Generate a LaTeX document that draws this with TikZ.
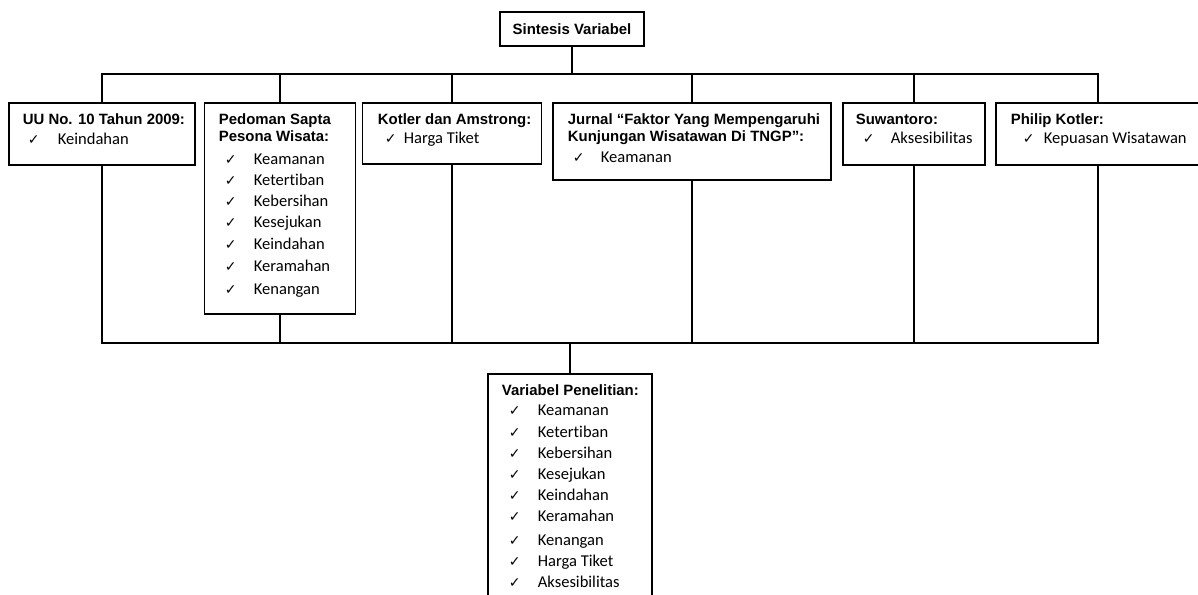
\documentclass[tikz,border=0pt]{standalone}
\usepackage{fontspec}
\setmainfont{Liberation Sans}
\newfontfamily\calfont[Ligatures={NoCommon}]{Carlito}
\newfontfamily\ckfont{DejaVu Sans}
\newcommand{\cek}[2]{\makebox[#1][l]{\ckfont\fontsize{10.5}{12}\selectfont ✓}#2}

\begin{document}
\begin{tikzpicture}[x=0.75pt,y=-0.75pt,line width=1.3pt]
	\tikzstyle{box}=[draw=black,rectangle,inner sep=0pt]
	\tikzstyle{judul}=[anchor=base west,inner sep=0pt,font=\fontsize{11.2}{13}\selectfont\bfseries]
	\tikzstyle{isi}=[anchor=base west,inner sep=0pt,font=\calfont\fontsize{12.4}{14}\selectfont]
	\useasboundingbox (0,0) rectangle (1198,595);

	% Draw the boxes
	\node[box,minimum width=108pt,minimum height=25.5pt,font=\fontsize{11.2}{13}\selectfont\bfseries] (top) at (572,29) {Sintesis Variabel};
	\node[box,minimum width=139.5pt,minimum height=46.5pt] (uu) at (102,134) {};
	\node[box,minimum width=113.25pt,minimum height=158.25pt] (pd) at (280,208.5) {};
	\node[box,minimum width=134.25pt,minimum height=45.75pt] (kt) at (452,133.5) {};
	\node[box,minimum width=208.5pt,minimum height=57.75pt] (jr) at (692,141.5) {};
	\node[box,minimum width=106.5pt,minimum height=46.5pt] (sw) at (914,134) {};
	\node[box,minimum width=153pt,minimum height=46.5pt] (pk) at (1098,134) {};
	\node[box,minimum width=123pt,minimum height=180pt] (hs) at (570,494) {};

	% Headings of the boxes
	\node[judul] (uu-h) at (22,125) {UU No. 10 Tahun 2009:};
	\node[judul] (pd-h1) at (218,125) {Pedoman Sapta};
	\node[judul] (pd-h2) at (218,142) {Pesona Wisata:};
	\node[judul] (kt-h) at (377,125) {Kotler dan Amstrong:};
	\node[judul] (jr-h1) at (567,125) {Jurnal “Faktor Yang Mempengaruhi};
	\node[judul] (jr-h2) at (567,142) {Kunjungan Wisatawan Di TNGP”:};
	\node[judul] (sw-h) at (855,125) {Suwantoro:};
	\node[judul] (pk-h) at (1010,125) {Philip Kotler:};
	\node[judul] (hs-h) at (501,395) {Variabel Penelitian:};

	% Items of the boxes
	\node[isi] (uu-1) at (27,145) {\cek{22.5pt}{Keindahan}};
	\foreach \t/\y [count=\i] in {Keamanan/165,Ketertiban/186,Kebersihan/207,Kesejukan/228,Keindahan/249,Keramahan/271,Kenangan/294}
	\node[isi] (pd-\i) at (224,\y) {\cek{21.75pt}{\t}};
	\node[isi] (kt-1) at (384,144) {\cek{14.25pt}{Harga Tiket}};
	\node[isi] (jr-1) at (572,163) {\cek{21pt}{Keamanan}};
	\node[isi] (sw-1) at (862,144) {\cek{21pt}{Aksesibilitas}};
	\node[isi] (pk-1) at (1022,144) {\cek{15.75pt}{Kepuasan Wisatawan}};
	\foreach \t/\y [count=\i] in {Keamanan/415,Ketertiban/437,Kebersihan/458,Kesejukan/479,Keindahan/500,Keramahan/521,Kenangan/545,Harga Tiket/566,Aksesibilitas/587}
	\node[isi] (hs-\i) at (508,\y) {\cek{21.75pt}{\t}};

	% Connect the top box with every source box
	\coordinate (atas) at (570,74);
	\draw (top.south) -- (top.south |- atas);
	\draw (uu.north) |- (pk.north |- atas) -- (pk.north);
	\foreach \n in {pd,kt,jr,sw}
	\draw (\n.north) -- (\n.north |- atas);

	% Connect every source box with the result box
	\coordinate (bawah) at (570,343);
	\draw (uu.south) |- (pk.south |- bawah) -- (pk.south);
	\foreach \n in {pd,kt,jr,sw}
	\draw (\n.south) -- (\n.south |- bawah);
	\draw (hs.north) -- (hs.north |- bawah);

\end{tikzpicture}
\end{document}
